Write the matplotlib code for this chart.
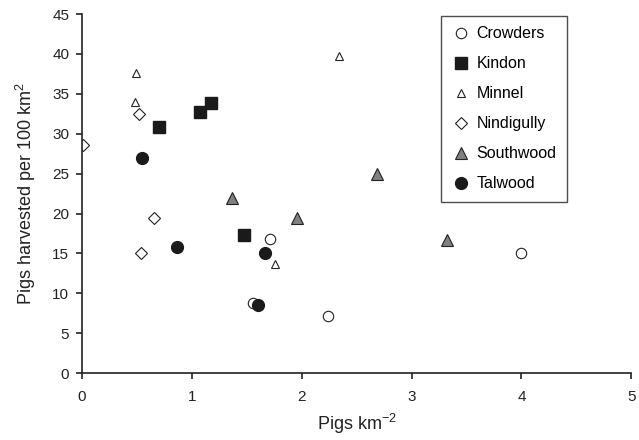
import matplotlib
matplotlib.use("Agg")
import matplotlib.pyplot as plt

plt.rcParams['font.family'] = ['Liberation Sans', 'DejaVu Sans']
plt.rcParams['mathtext.fontset'] = 'custom'
plt.rcParams['mathtext.rm'] = 'Liberation Sans'
plt.rcParams['mathtext.it'] = 'Liberation Sans'

# Pigs km^-2 (x) vs pigs harvested per 100 km^2 (y), by property
crowders_x = [1.56, 1.71, 2.24, 4.0]
crowders_y = [8.8, 16.8, 7.1, 15.1]
kindon_x = [0.70, 1.08, 1.18, 1.48]
kindon_y = [30.9, 32.7, 33.9, 17.3]
minnel_x = [0.49, 0.48, 2.34, 1.76]
minnel_y = [37.6, 34.0, 39.7, 13.7]
nindigully_x = [0.01, 0.52, 0.66, 0.54]
nindigully_y = [28.6, 32.5, 19.4, 15.1]
southwood_x = [1.37, 1.96, 2.69, 3.32]
southwood_y = [22.0, 19.5, 25.0, 16.7]
talwood_x = [0.55, 0.87, 1.67, 1.60]
talwood_y = [27.0, 15.8, 15.1, 8.5]

fig = plt.figure(figsize=(6.39, 4.40), dpi=100)
ax = fig.add_axes([0.128, 0.152, 0.86, 0.816])

ax.plot(crowders_x, crowders_y, 'o', ls='none', ms=7.5, mfc='white', mec='#222222', mew=0.8, label='Crowders')
ax.plot(kindon_x, kindon_y, 's', ls='none', ms=8, mfc='#1a1a1a', mec='#1a1a1a', label='Kindon')
ax.plot(minnel_x, minnel_y, '^', ls='none', ms=6, mfc='white', mec='#222222', mew=0.8, label='Minnel')
ax.plot(nindigully_x, nindigully_y, 'D', ls='none', ms=6, mfc='white', mec='#222222', mew=0.8, label='Nindigully')
ax.plot(southwood_x, southwood_y, '^', ls='none', ms=8, mfc='#808080', mec='#222222', mew=0.8, label='Southwood')
ax.plot(talwood_x, talwood_y, 'o', ls='none', ms=8.5, mfc='#1a1a1a', mec='#1a1a1a', label='Talwood')

ax.set_xlim(0, 5)
ax.set_ylim(0, 45)
ax.set_xticks(range(0, 6))
ax.set_yticks(range(0, 46, 5))
for s in ['top', 'right']:
    ax.spines[s].set_visible(False)
for s in ['left', 'bottom']:
    ax.spines[s].set_linewidth(1.2)
    ax.spines[s].set_color('#222222')
ax.tick_params(direction='out', length=4, width=1.2, labelsize=11, colors='#222222', pad=5)
ax.tick_params(axis='x', pad=8)

ax.set_xlabel('Pigs km$^{\u22122}$', fontsize=13, color='#222222', labelpad=6)
ax.set_ylabel('Pigs harvested per 100 km$^2$', fontsize=13, color='#222222', labelpad=10)

leg = ax.legend(loc='upper right', bbox_to_anchor=(567 / 639, 1 - 16 / 440), bbox_transform=fig.transFigure,
                fontsize=11.5, frameon=True, fancybox=False, edgecolor='#222222', labelspacing=0.94,
                handletextpad=0.4, handlelength=1.2, borderpad=0.65, borderaxespad=0)
leg.get_frame().set_linewidth(1.0)

fig.savefig('out.png', dpi=100)
